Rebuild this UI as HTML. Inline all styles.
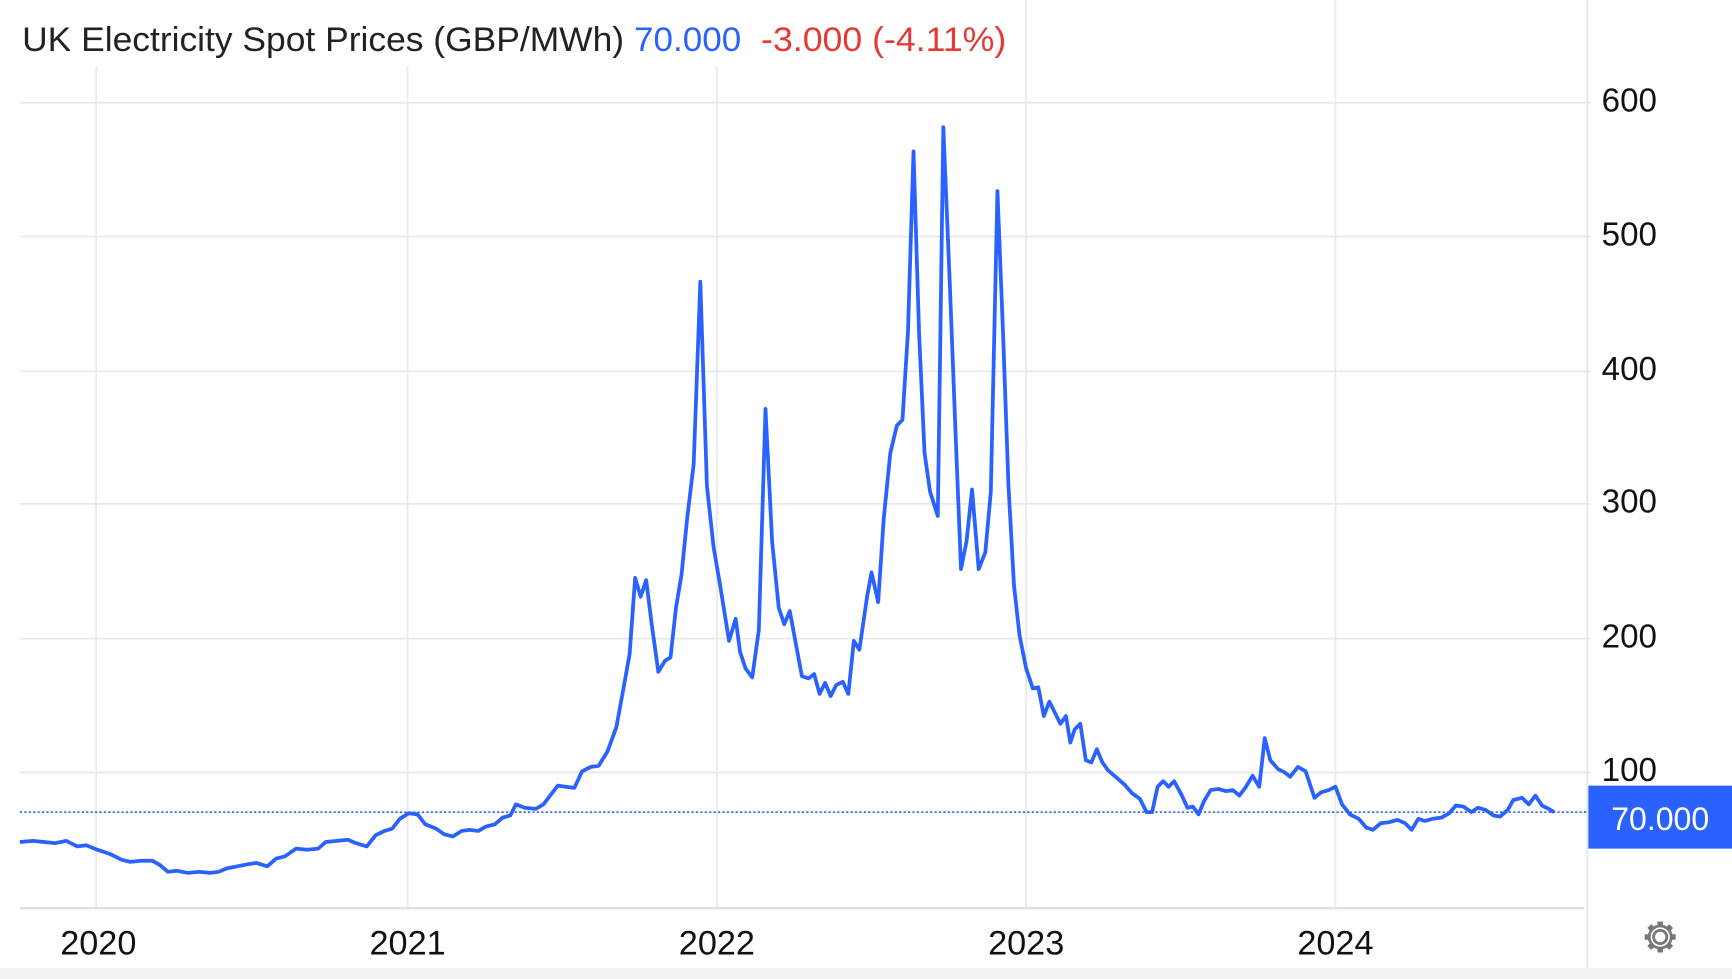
<!DOCTYPE html>
<html><head><meta charset="utf-8"><style>
html,body{margin:0;padding:0;background:#fff;}
svg{display:block;}
text{font-family:"Liberation Sans",Arial,sans-serif;}
</style></head><body>
<svg width="1732" height="979" viewBox="0 0 1568 886" preserveAspectRatio="none" xmlns="http://www.w3.org/2000/svg">
<rect x="0" y="0" width="1568" height="886" fill="#fff"/>
<rect x="0" y="876" width="1568" height="10" fill="#f1f2f4"/>
<g stroke="#e6eaee" stroke-width="1.5">
<line x1="87" y1="60" x2="87" y2="822"/><line x1="369" y1="60" x2="369" y2="822"/><line x1="649" y1="60" x2="649" y2="822"/><line x1="929" y1="0" x2="929" y2="822"/><line x1="1209" y1="0" x2="1209" y2="822"/>
<line x1="18" y1="93" x2="1440" y2="93"/><line x1="18" y1="214" x2="1440" y2="214"/><line x1="18" y1="336" x2="1440" y2="336"/><line x1="18" y1="456" x2="1440" y2="456"/><line x1="18" y1="578" x2="1440" y2="578"/><line x1="18" y1="699" x2="1440" y2="699"/>
</g>
<line x1="18" y1="822" x2="1434" y2="822" stroke="#dcdfe3" stroke-width="2"/>
<line x1="1437" y1="0" x2="1437" y2="876" stroke="#e3e5e8" stroke-width="1.5"/>
<g font-size="30" fill="#111">
<text x="1450" y="101">600</text><text x="1450" y="222">500</text><text x="1450" y="344">400</text><text x="1450" y="464">300</text><text x="1450" y="586">200</text><text x="1450" y="707">100</text>
</g>
<g font-size="31" fill="#111" text-anchor="middle">
<text x="89" y="864">2020</text><text x="369" y="864">2021</text><text x="649" y="864">2022</text><text x="929" y="864">2023</text><text x="1209" y="864">2024</text>
</g>
<line x1="18" y1="735" x2="1438" y2="735" stroke="#2962ff" stroke-width="1.5" stroke-dasharray="2,2"/>
<polyline fill="none" stroke="#2962ff" stroke-width="3.4" stroke-linejoin="round" points="18,762 30,761 40,762 50,763 60,761 70,766 78,765 88,769 100,773 110,778 118,780 128,779 138,779 145,783 152,789 160,788 170,790 180,789 190,790 198,789 205,786 215,784 225,782 232,781 242,784 250,777 258,775 268,768 278,769 288,768 295,762 305,761 315,760 322,763 332,766 340,756 348,752 355,750 362,741 370,736 378,737 385,746 395,750 402,755 410,757 418,752 425,751 433,752 440,748 448,746 455,740 462,738 467,728 475,731 485,732 492,728 498,720 505,711 512,712 520,713 527,698 535,694 542,693 550,680 558,658 565,620 570,592 575,523 580,540 585,525 590,565 596,608 602,598 607,595 612,550 617,520 622,470 628,420 634,255 640,440 646,495 652,530 660,580 666,560 670,590 675,605 681,613 687,570 693,370 699,490 705,550 710,565 715,553 720,580 726,612 732,614 737,610 742,628 747,618 752,630 757,620 763,617 768,628 773,580 778,588 785,540 789,518 795,545 800,470 806,410 812,385 817,380 822,300 827,137 832,300 837,410 842,445 849,467 854,115 860,260 865,390 870,515 875,490 880,443 886,515 892,500 897,445 903,173 908,300 913,440 918,530 923,575 929,605 935,623 940,622 945,648 950,635 955,645 960,655 965,648 969,672 973,660 978,655 983,688 988,690 993,678 998,690 1003,697 1010,703 1018,710 1025,718 1032,723 1038,735 1043,735 1048,712 1053,707 1058,712 1063,707 1070,720 1075,731 1080,730 1085,737 1090,725 1096,715 1103,714 1110,716 1116,715 1122,720 1128,712 1134,702 1140,712 1145,668 1150,688 1157,696 1163,699 1168,703 1175,694 1182,698 1190,722 1196,717 1203,715 1209,712 1215,728 1222,737 1230,741 1237,749 1243,751 1250,745 1258,744 1265,742 1272,745 1278,751 1284,741 1290,743 1297,741 1305,740 1312,736 1318,729 1325,730 1332,735 1338,731 1345,733 1352,738 1358,739 1365,733 1370,724 1378,722 1384,728 1390,720 1396,729 1402,732 1407,735"/>
<rect x="1438" y="711" width="130" height="57" fill="#2962ff"/>
<text x="1503" y="751" font-size="29" fill="#fff" text-anchor="middle">70.000</text>
<g font-size="31">
<text x="20" y="46" fill="#222" textLength="545" lengthAdjust="spacingAndGlyphs">UK Electricity Spot Prices (GBP/MWh)</text>
<text x="574" y="46" fill="#2962ff" textLength="97" lengthAdjust="spacingAndGlyphs">70.000</text>
<text x="689" y="46" fill="#e53935" textLength="222" lengthAdjust="spacingAndGlyphs">-3.000 (-4.11%)</text>
</g>
<g transform="translate(1503,848)" fill="none" stroke="#777" stroke-width="2.5">
<circle r="6"/>
<g stroke-width="5" stroke-linecap="butt">
<line x1="0" y1="-9" x2="0" y2="-14"/><line x1="0" y1="9" x2="0" y2="14"/><line x1="-9" y1="0" x2="-14" y2="0"/><line x1="9" y1="0" x2="14" y2="0"/>
<line x1="6.4" y1="6.4" x2="9.9" y2="9.9"/><line x1="-6.4" y1="-6.4" x2="-9.9" y2="-9.9"/><line x1="6.4" y1="-6.4" x2="9.9" y2="-9.9"/><line x1="-6.4" y1="6.4" x2="-9.9" y2="9.9"/>
</g>
<circle r="10" stroke-width="2.5"/>
</g>
<circle cx="1503" cy="848" r="4" fill="#fff"/>
</svg>
</body></html>
